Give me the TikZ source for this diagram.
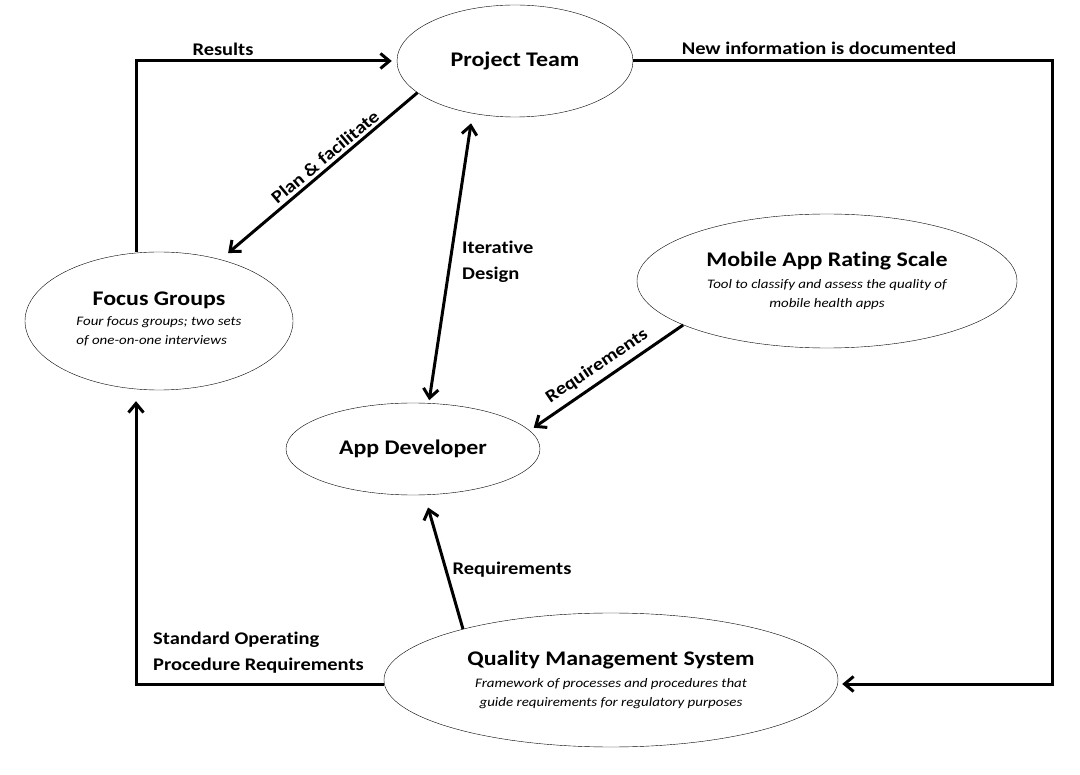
\documentclass[tikz,border=0pt]{standalone}
\usepackage{fontspec}
\setmainfont{Carlito}[FakeStretch=1.15, Ligatures=NoCommon]
\usetikzlibrary{shapes, shapes.geometric, arrows.meta}

\tikzset{
    part/.style={ellipse, draw, thin, inner sep=0pt, align=center,
        font=\fontsize{13}{19}\selectfont\itshape},
    flow/.style={line width=3pt, ->, >={Straight Barb[length=9pt,width=15pt]}},
    tag/.style={font=\fontsize{17.8}{26}\selectfont\bfseries, align=left, inner sep=0pt}
}
\newcommand{\parttitle}[1]{{\fontsize{20.8}{19}\selectfont\bfseries\upshape #1}}
\newcommand{\leftpair}[2]{\begin{tabular}{@{}l@{}}#1\\ #2\end{tabular}}

\begin{document}
\begin{tikzpicture}[x=1pt, y=-1pt]
    \useasboundingbox (0,0) rectangle (1080,775);

    \node[part, minimum width=236pt, minimum height=112pt] (ProjectTeam)   at (515,61)
        {\parttitle{Project Team}};
    \node[part, minimum width=268pt, minimum height=138pt] (FocusGroups)   at (159,321)
        {\parttitle{Focus Groups}\\[3pt]
         \leftpair{Four focus groups; two sets}{of one-on-one interviews}};
    \node[part, minimum width=254pt, minimum height=92pt]  (AppDeveloper)  at (413,449)
        {\parttitle{App Developer}};
    \node[part, minimum width=380pt, minimum height=134pt] (RatingScale)   at (827,281)
        {\parttitle{Mobile App Rating Scale}\\[3pt]
         Tool to classify and assess the quality of\\ mobile health apps};
    \node[part, minimum width=454pt, minimum height=134pt] (QualitySystem) at (611,680)
        {\parttitle{Quality Management System}\\[3pt]
         Framework of processes and procedures that\\ guide requirements for regulatory purposes};

    \coordinate (ResultsUp)  at (136,61);
    \coordinate (InfoRight)  at (1052,61);
    \coordinate (InfoDown)   at (1052,684);
    \coordinate (SopLeft)    at (136,684);

    % outer loop
    \draw[flow, shorten >=5pt] (FocusGroups.north -| ResultsUp) -- (ResultsUp) -- (ProjectTeam.west |- ResultsUp);
    \draw[flow, shorten >=4pt] (ProjectTeam.east |- InfoRight) -- (InfoRight) -- (InfoDown) -- (QualitySystem.east |- InfoDown);
    \draw[flow, shorten >=11pt] (QualitySystem.west |- SopLeft) -- (SopLeft) -- (FocusGroups.south -| SopLeft);

    % inner arrows
    \draw[flow, shorten >=10pt] (ProjectTeam.198) -- (FocusGroups.45);
    \draw[flow, <->, shorten <=10pt, shorten >=3pt] (ProjectTeam.-129.6) -- (AppDeveloper.71.8);
    \draw[flow, shorten >=5pt] (RatingScale.197.5) -- (AppDeveloper.9.3);
    \draw[flow, shorten >=13pt] (QualitySystem.161.3) -- (AppDeveloper.-76.5);

    % labels
    \node[tag] (ResultsTag)  at (223,49)  {Results};
    \node[tag] (InfoTag)     at (819,48)  {New information is documented};
    \node[tag, rotate=40] (PlanTag) at (325,157) {Plan \& facilitate};
    \node[tag, anchor=west] (DesignTag) at (462,262) {Iterative\\ Design};
    \node[tag, rotate=34] (ReqScaleTag) at (597,366) {Requirements};
    \node[tag] (ReqQmsTag)   at (512,570) {Requirements};
    \node[tag, anchor=west] (SopTag) at (153,653) {Standard Operating\\ Procedure Requirements};
\end{tikzpicture}
\end{document}
